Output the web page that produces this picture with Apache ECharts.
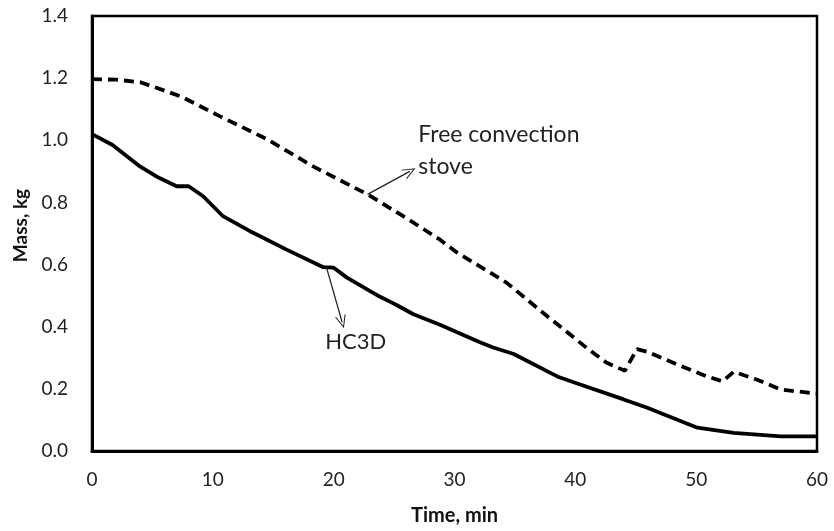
<!DOCTYPE html>
<html><head><meta charset="utf-8">
<script src="https://cdn.jsdelivr.net/npm/echarts@6/dist/echarts.min.js"></script>
<style>html,body{margin:0;padding:0;background:#fff}#c{width:834px;height:531px}</style>
</head><body><div id="c"></div>
<script>
// HC3D (solid) : [time min, mass kg]
const hc3dTime = [0, 1.7, 4, 5.5, 7, 8, 9.2, 10.8, 13.3, 16.1, 19.1, 20, 21.1, 23.8, 24.7, 25.2, 26.6, 28.8, 32.1, 33.2, 34.9, 38.5, 39.8, 44, 45.9, 50.1, 53.1, 57, 60];
const hc3dMass = [1.02, 0.985, 0.915, 0.88, 0.852, 0.852, 0.82, 0.757, 0.703, 0.648, 0.592, 0.59, 0.558, 0.497, 0.48, 0.47, 0.44, 0.406, 0.35, 0.333, 0.312, 0.24, 0.222, 0.166, 0.14, 0.075, 0.058, 0.047, 0.047];
// Free convection stove (dashed)
const fcsTime = [0, 2, 4, 7.3, 10.6, 14.5, 18.3, 22.8, 26, 28.8, 30.2, 34.3, 37.7, 41, 42.6, 44.1, 45.1, 45.9, 48.1, 50.9, 52.2, 53.1, 55, 57, 59.4, 60];
const fcsMass = [1.197, 1.195, 1.187, 1.142, 1.077, 1.003, 0.916, 0.826, 0.75, 0.68, 0.639, 0.542, 0.433, 0.33, 0.284, 0.258, 0.328, 0.32, 0.284, 0.24, 0.224, 0.255, 0.23, 0.198, 0.187, 0.185];
const xTicks = [0, 10, 20, 30, 40, 50, 60];
const yTicks = [0.0, 0.2, 0.4, 0.6, 0.8, 1.0, 1.2, 1.4];

const zip = (a, b) => a.map((v, i) => [v, b[i]]);
const chart = echarts.init(document.getElementById('c'), null, {renderer: 'canvas'});
const FONT = 'Lato, "Open Sans", sans-serif';
const arrowHead = 'path://M0,0 L5,10 L4,10 L0,2 L-4,10 L-5,10 Z';

chart.setOption({
  animation: false,
  backgroundColor: '#fff',
  grid: {left: 92, right: 17, top: 16, bottom: 80, show: true, borderColor: '#000', borderWidth: 2.5, backgroundColor: 'transparent'},
  xAxis: {
    type: 'value', min: 0, max: 60, interval: 10,
    name: 'Time, min', nameLocation: 'middle', nameGap: 55,
    nameTextStyle: {fontFamily: FONT, fontWeight: 'bold', fontSize: 20, color: '#111'},
    axisLine: {show: true, lineStyle: {color: '#000', width: 3}},
    axisTick: {show: false}, splitLine: {show: false},
    axisLabel: {fontFamily: FONT, fontSize: 19, color: '#222', margin: 19,
      formatter: v => xTicks.includes(v) ? String(v) : ''}
  },
  yAxis: {
    type: 'value', min: 0, max: 1.4, interval: 0.2,
    name: 'Mass, kg', nameLocation: 'middle', nameGap: 61, nameRotate: 90,
    nameTextStyle: {fontFamily: FONT, fontWeight: 'bold', fontSize: 19, color: '#111', padding: [0, 0, 0, 16]},
    axisLine: {show: true, lineStyle: {color: '#000', width: 3}},
    axisTick: {show: false}, splitLine: {show: false},
    axisLabel: {fontFamily: FONT, fontSize: 19, color: '#222', margin: 24,
      formatter: v => { const t = yTicks.find(y => Math.abs(y - v) < 1e-6); return t === undefined ? '' : t.toFixed(1); }}
  },
  series: [
    {
      name: 'Free convection stove', type: 'line', data: zip(fcsTime, fcsMass),
      showSymbol: false, smooth: false,
      lineStyle: {color: '#000', width: 3.8, type: [10, 6], cap: 'butt'},
      markLine: {
        silent: true, symbol: ['none', arrowHead], symbolSize: [11, 13],
        lineStyle: {color: '#222', width: 1.3, type: 'solid'},
        label: {show: false},
        data: [[{coord: [22.8, 0.826]}, {coord: [26.3, 0.9]}]]
      }
    },
    {
      name: 'HC3D', type: 'line', data: zip(hc3dTime, hc3dMass),
      showSymbol: false, smooth: false,
      lineStyle: {color: '#000', width: 3.8},
      markLine: {
        silent: true, symbol: ['none', arrowHead], symbolSize: [11, 13],
        lineStyle: {color: '#222', width: 1.3, type: 'solid'},
        label: {show: false},
        data: [[{coord: [19.4, 0.592]}, {coord: [20.7, 0.415]}]]
      }
    }
  ]
});

// Annotation texts placed through the chart's own coordinate conversion
const p1 = chart.convertToPixel({gridIndex: 0}, [27.0, 0.968]);
const p2 = chart.convertToPixel({gridIndex: 0}, [19.3, 0.352]);
chart.setOption({
  graphic: [
    {type: 'text', x: p1[0], y: p1[1], style: {text: 'Free convection\nstove', fontFamily: FONT, fontSize: 23, lineHeight: 32, fill: '#222', textVerticalAlign: 'middle'}},
    {type: 'text', x: p2[0], y: p2[1], style: {text: 'HC3D', fontFamily: FONT, fontSize: 22, fill: '#222', textVerticalAlign: 'middle'}}
  ]
});
</script></body></html>
